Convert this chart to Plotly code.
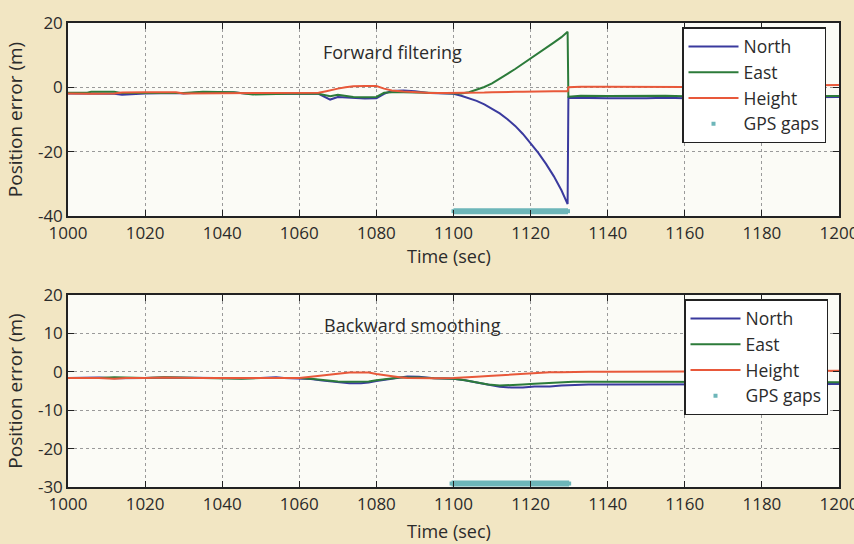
import plotly.graph_objects as go

# ---------------- data ----------------
t_fwd = [1000, 1005, 1006, 1012, 1014, 1020, 1028, 1030, 1035, 1043, 1048, 1055, 1060,
         1065, 1067, 1068, 1070, 1072, 1074, 1077, 1080, 1082, 1084, 1087, 1090, 1094,
         1098, 1100, 1102, 1104, 1106, 1108, 1110, 1112, 1114, 1116, 1118, 1120, 1122,
         1124, 1126, 1128, 1129.6, 1129.8, 1133, 1140, 1150, 1155, 1160, 1170, 1180,
         1190, 1200]
north_fwd = [-1.9, -1.9, -1.9, -2.0, -2.3, -1.9, -1.8, -1.9, -1.5, -1.6, -2.1, -1.9, -1.9,
             -2.0, -3.2, -3.8, -3.0, -3.2, -3.4, -3.5, -3.4, -2.0, -1.1, -1.0, -1.2, -1.8,
             -1.9, -2.0, -2.6, -3.3, -4.2, -5.3, -6.6, -8.1, -9.9, -12.0, -14.5, -17.3, -20.4,
             -23.8, -27.6, -32.0, -36.3, -3.2, -3.3, -3.4, -3.4, -3.2, -3.4, -3.3, -3.3,
             -3.2, -3.0]
east_fwd = [-1.7, -1.7, -1.4, -1.4, -1.8, -1.8, -1.6, -1.8, -1.4, -1.5, -2.2, -2.0, -1.9,
            -2.0, -2.5, -2.8, -2.3, -2.7, -3.0, -3.1, -3.0, -1.7, -1.5, -1.5, -1.6, -1.8,
            -1.9, -2.0, -1.9, -1.5, -0.8, 0.1, 1.2, 2.6, 4.2, 5.7, 7.3, 8.9, 10.5,
            12.2, 13.9, 15.6, 17.3, -2.9, -2.6, -2.7, -2.6, -2.6, -2.8, -2.8, -2.8,
            -2.8, -2.7]
height_fwd = [-1.9, -2.0, -2.0, -1.9, -1.6, -1.5, -1.5, -1.9, -1.9, -1.8, -1.8, -1.9, -1.8,
              -1.7, -1.2, -0.9, -0.4, 0.0, 0.3, 0.4, 0.4, -0.4, -1.0, -1.3, -1.5, -1.8,
              -1.8, -1.8, -1.8, -1.7, -1.7, -1.6, -1.5, -1.4, -1.4, -1.4, -1.4, -1.3, -1.3,
              -1.3, -1.2, -1.2, -1.2, 0.0, 0.2, 0.2, 0.2, 0.0, 0.1, 0.4, 0.5,
              0.6, 0.7]
gap_x_fwd = [1100, 1129.7]
gap_y_fwd = [-38.5, -38.5]

t_bwd = [1000, 1008, 1012, 1015, 1020, 1025, 1033, 1040, 1045, 1050, 1054, 1056, 1060,
         1063, 1066, 1070, 1073, 1076, 1078, 1080, 1083, 1086, 1088, 1091, 1095, 1100,
         1103, 1106, 1109, 1112, 1115, 1118, 1121, 1125, 1128, 1131, 1135, 1140, 1150,
         1160, 1170, 1180, 1190, 1200]
north_bwd = [-1.6, -1.5, -1.7, -1.6, -1.6, -1.5, -1.6, -1.6, -1.7, -1.6, -1.4, -1.6, -1.7,
             -1.9, -2.3, -2.8, -3.0, -3.0, -2.8, -2.4, -1.9, -1.5, -1.2, -1.3, -1.7, -1.8,
             -2.2, -2.8, -3.4, -3.9, -4.1, -4.1, -3.8, -3.8, -3.6, -3.4, -3.3, -3.3, -3.3,
             -3.3, -3.3, -3.3, -3.2, -3.2]
east_bwd = [-1.6, -1.6, -1.4, -1.5, -1.6, -1.4, -1.5, -1.6, -1.8, -1.6, -1.6, -1.6, -1.6,
            -1.8, -2.1, -2.5, -2.6, -2.6, -2.5, -2.2, -1.8, -1.5, -1.5, -1.5, -1.7, -1.8,
            -2.2, -2.8, -3.3, -3.6, -3.5, -3.3, -3.1, -2.9, -2.7, -2.6, -2.6, -2.6, -2.6,
            -2.6, -2.6, -2.6, -2.7, -2.7]
height_bwd = [-1.6, -1.6, -1.8, -1.6, -1.6, -1.5, -1.6, -1.6, -1.6, -1.6, -1.6, -1.6, -1.6,
              -1.3, -0.9, -0.5, -0.2, -0.1, -0.2, -0.6, -1.1, -1.4, -1.6, -1.7, -1.7, -1.6,
              -1.5, -1.3, -1.1, -0.9, -0.7, -0.5, -0.3, -0.1, -0.1, 0.0, 0.0, 0.0, 0.0,
              0.1, 0.2, 0.2, 0.3, 0.3]
gap_x_bwd = [1099.5, 1130]
gap_y_bwd = [-29.1, -29.1]

x_ticks = [1000, 1020, 1040, 1060, 1080, 1100, 1120, 1140, 1160, 1180, 1200]
y_ticks_fwd = [-40, -20, 0, 20]
y_ticklabels_fwd = ["-40", "-20", "0", "20"]
y_ticks_bwd = [-30, -20, -10, 0, 10, 20]
y_ticklabels_bwd = ["-30", "-20", "-10", "0", "10", "20"]

series_names = ["North", "East", "Height"]
series_colors = ["#3a3a9e", "#2c7b3a", "#e8583a"]
gap_color = "#6db6b9"

FONT = "Open Sans"
TXT = "#2b2b2b"

fig = go.Figure()

panels = [
    ("x", "y", "legend", t_fwd, [north_fwd, east_fwd, height_fwd], gap_x_fwd, gap_y_fwd),
    ("x2", "y2", "legend2", t_bwd, [north_bwd, east_bwd, height_bwd], gap_x_bwd, gap_y_bwd),
]
for xa, ya, lg, t, ys, gx, gy in panels:
    for name, col, yv in zip(series_names, series_colors, ys):
        fig.add_trace(go.Scatter(x=t, y=yv, mode="lines", name=name, xaxis=xa, yaxis=ya,
                                 line=dict(color=col, width=2), legend=lg))
    fig.add_trace(go.Scatter(x=gx, y=gy, mode="lines", xaxis=xa, yaxis=ya, showlegend=False,
                             line=dict(color=gap_color, width=6), hoverinfo="skip"))
    fig.add_trace(go.Scatter(x=gx, y=gy, mode="markers", name="GPS gaps", xaxis=xa, yaxis=ya,
                             marker=dict(color=gap_color, size=4, symbol="square"),
                             legend=lg))

xdom = [68 / 854, 839 / 854]
common_x = dict(range=[1000, 1200], tickvals=x_ticks, ticks="inside", ticklen=6,
                tickcolor="#222", mirror="allticks", showline=True, linecolor="#222",
                linewidth=1.5, showgrid=True, gridcolor="#9a9a9a", griddash="dot",
                gridwidth=1, zeroline=False, domain=xdom, automargin=False,
                ticklabeloverflow="allow", ticklabelstandoff=1,
                tickfont=dict(family=FONT, size=17, color=TXT))
common_y = dict(ticks="inside", ticklen=6, tickcolor="#222", mirror="allticks",
                showline=True, linecolor="#222", linewidth=1.5, showgrid=True,
                gridcolor="#9a9a9a", griddash="dot", gridwidth=1, zeroline=False,
                automargin=False, ticklabeloverflow="allow",
                tickfont=dict(family=FONT, size=17, color=TXT),
                title=dict(text="Position error (m)", font=dict(family=FONT, size=19, color=TXT),
                           standoff=10))

legend_common = dict(bgcolor="white", bordercolor="#222", borderwidth=1.5,
                     font=dict(family=FONT, size=17.5, color=TXT), xanchor="left",
                     yanchor="top", tracegroupgap=0, itemwidth=50)

txt_font = dict(family=FONT, size=18, color=TXT)
fig.update_layout(
    width=854, height=544,
    margin=dict(l=0, r=0, t=0, b=0, autoexpand=False),
    paper_bgcolor="#f2e6c3",
    plot_bgcolor="#fbfbf6",
    xaxis=dict(common_x, anchor="y"),
    yaxis=dict(common_y, range=[-40, 20], tickvals=y_ticks_fwd, ticktext=y_ticklabels_fwd,
               domain=[1 - 216 / 544, 1 - 23 / 544], anchor="x"),
    xaxis2=dict(common_x, anchor="y2"),
    yaxis2=dict(common_y, range=[-30, 20], tickvals=y_ticks_bwd, ticktext=y_ticklabels_bwd,
                domain=[1 - 487 / 544, 1 - 295 / 544], anchor="x2"),
    legend=dict(legend_common, x=682 / 854, y=1 - 27 / 544),
    legend2=dict(legend_common, x=684 / 854, y=1 - 299 / 544),
    annotations=[
        dict(text="Forward filtering", xref="paper", yref="paper", x=392 / 854, y=1 - 52 / 544,
             xanchor="center", yanchor="middle", showarrow=False, font=txt_font),
        dict(text="Backward smoothing", xref="paper", yref="paper", x=412 / 854, y=1 - 325 / 544,
             xanchor="center", yanchor="middle", showarrow=False, font=txt_font),
        dict(text="Time (sec)", xref="paper", yref="paper", x=449 / 854, y=1 - 256 / 544,
             xanchor="center", yanchor="middle", showarrow=False, font=txt_font),
        dict(text="Time (sec)", xref="paper", yref="paper", x=449 / 854, y=1 - 531 / 544,
             xanchor="center", yanchor="middle", showarrow=False, font=txt_font),
    ],
    showlegend=True,
)

fig.write_html("out.html")
